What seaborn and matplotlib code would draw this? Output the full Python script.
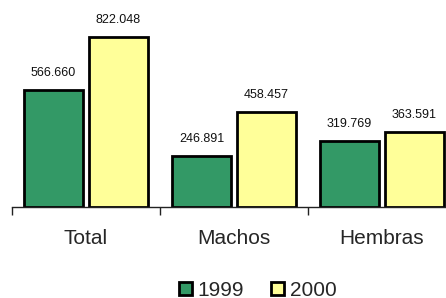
import matplotlib
matplotlib.use("Agg")
import matplotlib.pyplot as plt
import seaborn as sns
import pandas as pd

categories = ["Total", "Machos", "Hembras"]
years = ["1999", "2000"]
values_1999 = [566.660, 246.891, 319.769]
values_2000 = [822.048, 458.457, 363.591]
labels_1999 = ["566.660", "246.891", "319.769"]
labels_2000 = ["822.048", "458.457", "363.591"]

df = pd.DataFrame({
    "cat": categories * 2,
    "year": [years[0]] * 3 + [years[1]] * 3,
    "val": values_1999 + values_2000,
})

sns.set_style("white")
plt.rcParams["font.family"] = ["Liberation Sans", "DejaVu Sans"]

fig = plt.figure(figsize=(4.46, 2.98), dpi=100)
ax = fig.add_axes([12 / 446, 91 / 298, 444 / 446, 207 / 298])

palette = {"1999": "#339966", "2000": "#FFFF99"}
sns.barplot(data=df, x="cat", y="val", hue="year", order=categories,
            hue_order=years, palette=palette, width=0.875, gap=0.09,
            edgecolor="black", linewidth=2.0, saturation=1, ax=ax, legend=True)

for cont, labs in zip(ax.containers, [labels_1999, labels_2000]):
    ax.bar_label(cont, labels=labs, padding=8, fontsize=9, color="#111111")

ax.set_ylim(0, 1000)
ax.set_xlim(-0.5, 2.5)
ax.set_xlabel("")
ax.set_ylabel("")
ax.set_yticks([])
for s in ["top", "right", "left"]:
    ax.spines[s].set_visible(False)
ax.spines["bottom"].set_color("#222222")
ax.spines["bottom"].set_linewidth(1.0)
ax.set_xticks([0, 1, 2])
ax.set_xticklabels(categories, fontsize=15)
ax.set_xticks([-0.5, 0.5, 1.5, 2.5], minor=True)
ax.tick_params(axis="x", which="major", length=0, pad=16)
ax.tick_params(axis="x", which="minor", length=6, width=1, color="#222222",
               direction="out", bottom=True)

handles, labs = ax.get_legend_handles_labels()
ax.legend_.remove()
fig.legend(handles, labs, loc="center", bbox_to_anchor=(258 / 446, 1 - 290 / 298),
           ncol=2, frameon=False, fontsize=15, handlelength=0.6, handleheight=0.6,
           handletextpad=0.3, columnspacing=1.3, borderpad=0, borderaxespad=0)

fig.savefig("out.png", dpi=100)
